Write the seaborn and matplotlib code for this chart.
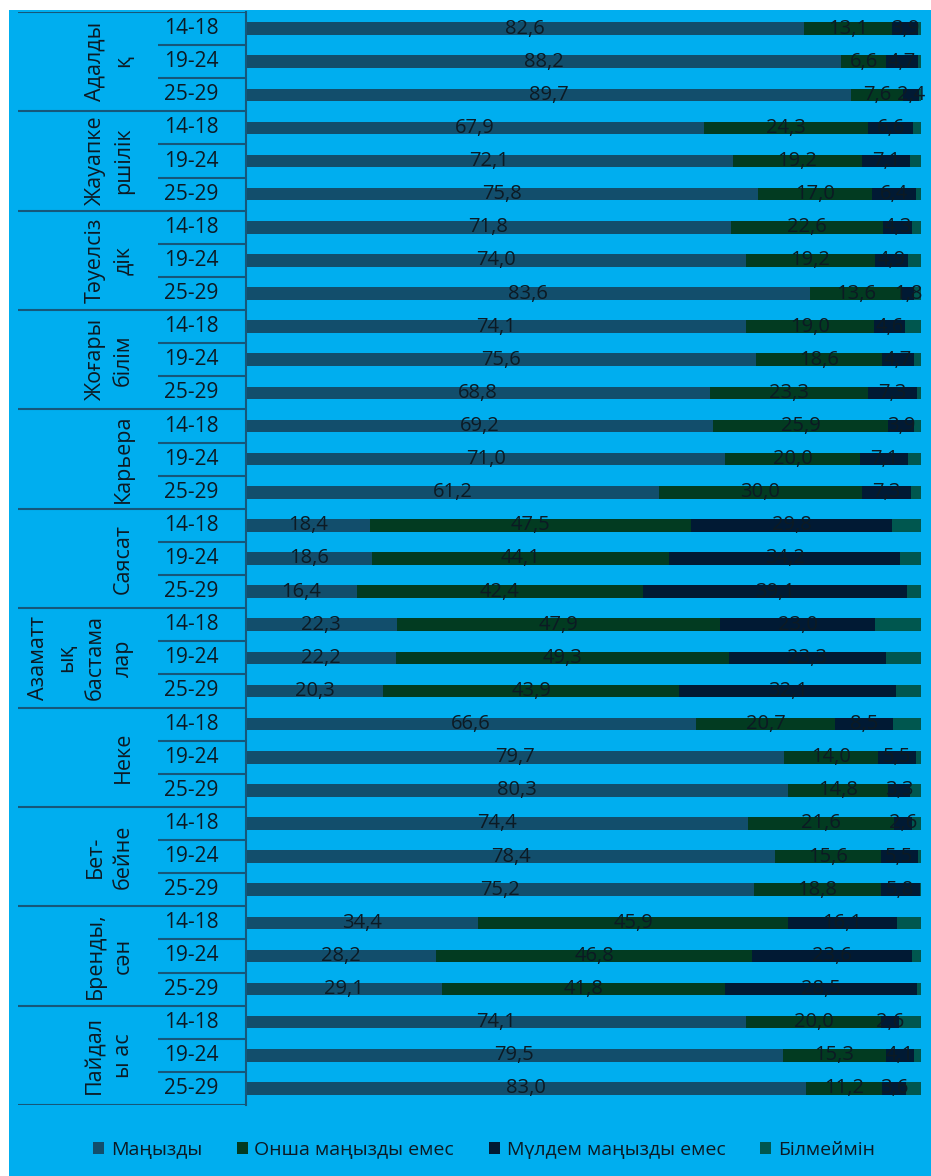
import matplotlib
matplotlib.use("Agg")
import matplotlib.pyplot as plt
import seaborn as sns
from matplotlib.patches import Patch, Rectangle

# categories (wrapped as in the original table) and age groups
categories = ["Адалды\nқ", "Жауапке\nршілік", "Тәуелсіз\nдік", "Жоғары\nбілім", "Карьера",
              "Саясат", "Азаматт\nық\nбастама\nлар", "Неке", "Бет-\nбейне", "Бренды,\nсән",
              "Пайдал\nы ас"]
ages = ["14-18", "19-24", "25-29"]
series = ["Маңызды", "Онша маңызды емес", "Мүлдем маңызды емес", "Білмеймін"]

# values per row, 3 age groups per category, top to bottom
important = [82.6, 88.2, 89.7, 67.9, 72.1, 75.8, 71.8, 74.0, 83.6, 74.1, 75.6, 68.8,
             69.2, 71.0, 61.2, 18.4, 18.6, 16.4, 22.3, 22.2, 20.3, 66.6, 79.7, 80.3,
             74.4, 78.4, 75.2, 34.4, 28.2, 29.1, 74.1, 79.5, 83.0]
not_very = [13.1, 6.6, 7.6, 24.3, 19.2, 17.0, 22.6, 19.2, 13.6, 19.0, 18.6, 23.3,
            25.9, 20.0, 30.0, 47.5, 44.1, 42.4, 47.9, 49.3, 43.9, 20.7, 14.0, 14.8,
            21.6, 15.6, 18.8, 45.9, 46.8, 41.8, 20.0, 15.3, 11.2]
not_at_all = [3.9, 4.7, 2.4, 6.6, 7.1, 6.4, 4.3, 4.9, 1.8, 4.6, 4.7, 7.3,
              3.9, 7.1, 7.3, 29.8, 34.2, 39.1, 23.0, 23.3, 32.1, 8.5, 5.5, 3.3,
              2.6, 5.5, 5.8, 16.1, 23.6, 28.5, 2.6, 4.1, 3.6]
dont_know = [0.4, 0.5, 0.3, 1.2, 1.6, 0.8, 1.3, 1.9, 1.0, 2.3, 1.1, 0.6,
             1.0, 1.9, 1.5, 4.3, 3.1, 2.1, 6.8, 5.2, 3.7, 4.2, 0.8, 1.6,
             1.4, 0.5, 0.2, 3.6, 1.4, 0.6, 3.3, 1.1, 2.2]

colors = ["#124e6c", "#023b21", "#011a34", "#00574f"]
bg = "#00aeef"
line_col = "#16577a"
text_col = "#0c1a24"

sns.set_style("white")
plt.rcParams['font.family'] = ['Open Sans', 'Noto Sans', 'DejaVu Sans']

W, H = 931, 1176
fig = plt.figure(figsize=(W / 100, H / 100), dpi=100)
fig.patch.set_facecolor("white")
fig.patches.append(Rectangle((9 / W, 0), 1 - 9 / W, 1 - 10 / H, transform=fig.transFigure,
                             facecolor=bg, edgecolor="none", zorder=-5))

top, bottom = 12, 1105
ax = fig.add_axes([246 / W, 1 - bottom / H, (921 - 246) / W, (bottom - top) / H])
ax.set_facecolor("none")

rows = [str(i) for i in range(len(important))]
data = [important, not_very, not_at_all, dont_know]
cum = []
run = [0.0] * len(rows)
for vals in data:
    run = [a + b for a, b in zip(run, vals)]
    cum.append(run)

# stack by drawing the cumulative totals from the outermost in
for k in reversed(range(4)):
    sns.barplot(x=cum[k], y=rows, order=rows, orient="h", color=colors[k],
                width=0.38, saturation=1, errorbar=None, ax=ax,
                linewidth=0, edgecolor="none")

# value labels (no labels on the "don't know" part)
for k in range(3):
    for i in range(len(rows)):
        v = data[k][i]
        ax.text(cum[k][i] - v / 2, i, f"{v:.1f}".replace(".", ","), ha="center",
                va="center", fontsize=14.5, color=text_col)

ax.set_xlim(0, 100)
ax.set_ylim(len(rows) - 0.5, -0.5)
ax.set_xlabel("")
ax.set_ylabel("")
ax.set_xticks([])
ax.set_yticks([])
for s in ["top", "right", "bottom"]:
    ax.spines[s].set_visible(False)
ax.spines["left"].set_color(line_col)
ax.spines["left"].set_linewidth(1.5)

# left-hand table with categories and age groups
tax = fig.add_axes([18 / W, 1 - bottom / H, (246 - 18) / W, (bottom - top) / H])
tax.set_facecolor("none")
tax.set_xlim(18, 246)
tax.set_ylim(len(rows) - 0.5, -0.5)
tax.axis("off")
for c, cat in enumerate(categories):
    tax.hlines(c * 3 - 0.5, 18, 246, color=line_col, lw=1.5)
    tax.hlines([c * 3 + 0.5, c * 3 + 1.5], 158, 246, color=line_col, lw=1.5)
    tax.text(134, c * 3 + 1, cat, rotation=90, ha="right", va="center",
             multialignment="center", fontsize=15.5, color=text_col, linespacing=1.45)
    for j, a in enumerate(ages):
        tax.text(191, c * 3 + j, a, ha="center", va="center", fontsize=15, color=text_col)
tax.hlines(len(categories) * 3 - 0.5, 18, 246, color=line_col, lw=1.5)

handles = [Patch(facecolor=c, edgecolor="none") for c in colors]
leg = fig.legend(handles, series, loc="center", bbox_to_anchor=(0.52, 1 - 1150 / H), ncol=4,
                 frameon=False, handlelength=0.55, handleheight=0.55, handletextpad=0.35,
                 columnspacing=1.8, fontsize=14)
for t in leg.get_texts():
    t.set_color(text_col)

plt.savefig("out.png", dpi=100, facecolor=fig.get_facecolor())
